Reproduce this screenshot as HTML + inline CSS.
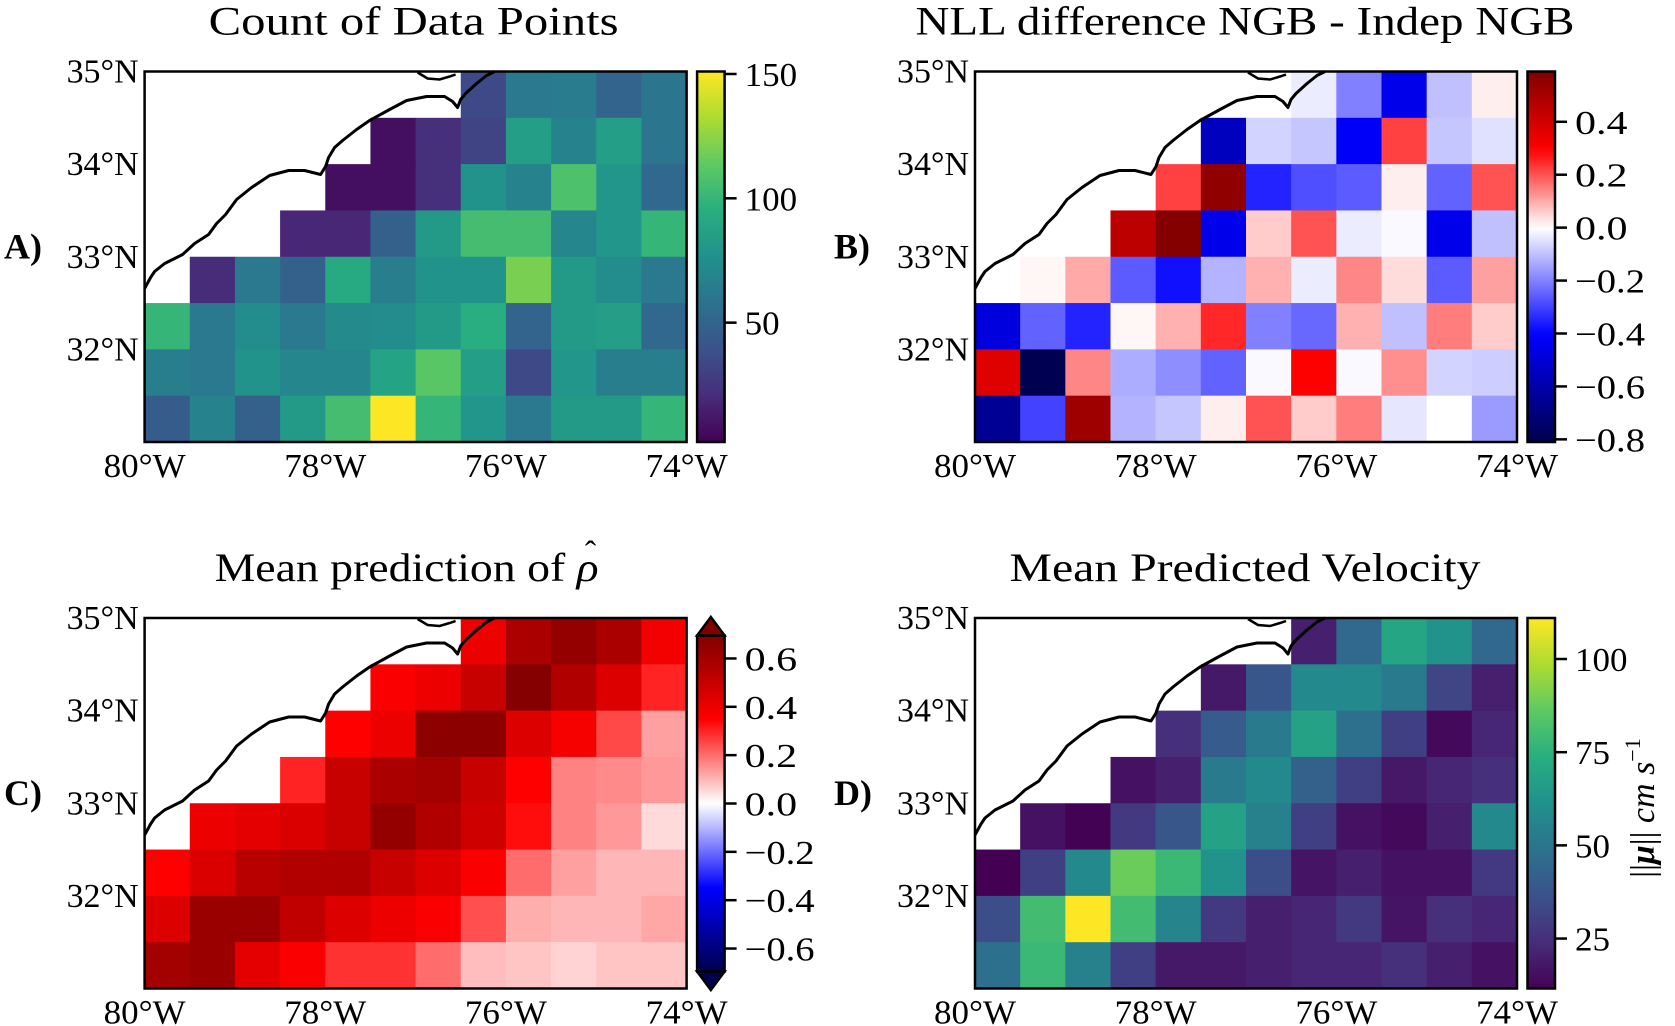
<!DOCTYPE html>
<html><head><meta charset="utf-8">
<style>
html,body{margin:0;padding:0;background:#fff;}
svg{display:block;font-family:"Liberation Serif",serif;}
</style></head>
<body>
<svg id="fig" width="1675" height="1026" viewBox="0 0 1675 1026" xmlns="http://www.w3.org/2000/svg">
<defs id="defs"></defs>
</svg>
<script>
const lonTicks = ["80°W","78°W","76°W","74°W"];
const lonTickVals = [-80,-78,-76,-74];
const latTicks = ["35°N","34°N","33°N","32°N"];
const latTickVals = [35,34,33,32];
const rowStart = [7,5,4,3,1,0,0,0];

const countRows = [
 [35,62,64,50,60],
 [8,22,32,85,68,85,60],
 [8,8,22,78,68,108,80,52],
 [18,18,48,82,105,105,70,80,100],
 [20,62,48,92,65,78,78,120,82,74,62],
 [100,62,74,62,72,74,82,95,50,82,85,52],
 [65,62,78,70,70,88,112,85,35,80,65,65],
 [45,68,48,82,105,151,100,80,62,82,82,100]
];
const nllRows = [
 [-0.03,-0.2,-0.45,-0.1,0.02],
 [-0.55,-0.07,-0.09,-0.42,0.22,-0.09,-0.05],
 [0.22,0.55,-0.35,-0.28,-0.26,0.02,-0.25,0.2],
 [0.45,0.58,-0.45,0.06,0.2,-0.03,-0.01,-0.45,-0.1],
 [0.01,0.1,-0.26,-0.38,-0.12,0.09,-0.03,0.14,0.04,-0.26,0.11],
 [-0.48,-0.25,-0.35,0.01,0.09,0.25,-0.2,-0.24,0.09,-0.1,0.15,0.06],
 [0.37,-0.8,0.14,-0.13,-0.18,-0.25,-0.01,0.3,-0.01,0.13,-0.07,-0.08],
 [-0.65,-0.3,0.52,-0.12,-0.09,0.02,0.2,0.06,0.15,-0.04,0.0,-0.16]
];
const rhoRows = [
 [0.4,0.58,0.64,0.58,0.38],
 [0.36,0.4,0.5,0.68,0.56,0.44,0.3],
 [0.35,0.4,0.66,0.66,0.44,0.37,0.25,0.13],
 [0.3,0.5,0.58,0.6,0.5,0.35,0.17,0.16,0.14],
 [0.4,0.42,0.45,0.5,0.64,0.56,0.48,0.33,0.17,0.14,0.05],
 [0.35,0.45,0.54,0.56,0.56,0.5,0.44,0.36,0.2,0.13,0.1,0.1],
 [0.44,0.62,0.62,0.52,0.44,0.4,0.36,0.24,0.11,0.1,0.1,0.12],
 [0.6,0.62,0.42,0.36,0.28,0.28,0.2,0.09,0.08,0.06,0.08,0.08]
];
const velRows = [
 [20,45,70,62,45],
 [18,38,58,58,52,32,20],
 [25,40,52,68,48,30,14,22],
 [16,20,52,58,42,30,18,22,25],
 [16,12,28,38,68,55,30,16,14,20,58],
 [11.6,30,58,88,78,62,35,17,20,16,16,28],
 [35,80,111,80,56,28,20,22,28,17,25,22],
 [48,78,55,30,18,18,20,22,22,25,20,16]
];
const cbTicksA = [50,100,150];
const cbTicksB = [0.4,0.2,0.0,-0.2,-0.4,-0.6,-0.8];
const cbTicksC = [0.6,0.4,0.2,0.0,-0.2,-0.4,-0.6];
const cbTicksD = [25,50,75,100];

const VIR = ["#440154","#472d7b","#3b528b","#2c728e","#21918c","#28ae80","#5ec962","#addc30","#fde725"];
const SEIS = [[0,0,77],[0,0,255],[255,255,255],[255,0,0],[128,0,0]];
function hex(h){return [parseInt(h.slice(1,3),16),parseInt(h.slice(3,5),16),parseInt(h.slice(5,7),16)];}
function interp(stops,t){t=Math.max(0,Math.min(1,t));const n=stops.length-1;const i=Math.min(n-1,Math.floor(t*n));const f=t*n-i;const a=stops[i],b=stops[i+1];return `rgb(${Math.round(a[0]+(b[0]-a[0])*f)},${Math.round(a[1]+(b[1]-a[1])*f)},${Math.round(a[2]+(b[2]-a[2])*f)})`;}
const VIRs = VIR.map(hex);
function viridis(vmin,vmax){return v=>interp(VIRs,(v-vmin)/(vmax-vmin));}
function seismic2(vmin,vmax){return v=>interp(SEIS, v<0 ? 0.5-0.5*(v/vmin) : 0.5+0.5*(v/vmax));}

const NS="http://www.w3.org/2000/svg";
const svg=document.getElementById('fig');
const defs=document.getElementById('defs');
function mk(tag,attrs,parent){const e=document.createElementNS(NS,tag);for(const k in attrs)e.setAttribute(k,attrs[k]);(parent||svg).appendChild(e);return e;}

const W=542,H=370.5;
const coast=[[0,217],[6,206],[10,200],[20,192],[38,183],[50,172],[64,163],[72,152],[81,143],[92,128],[107,116],[125,104],[144,99],[160,99],[176,103],[181,95],[184,86],[190,76],[198,69],[212,58],[225,49],[245,38],[262,29],[282,25],[300,25],[308,30],[313,36],[316,28],[321,22],[332,12],[342,4],[350,0]];
const sound=[[273,1],[283,7],[295,8],[305,5],[311,3]];

function panel(p){
  const g=mk('g',{});
  
  
  const L=p.x,T=p.y;
  const xs=lon=>L+(lon+80)/6*W;
  const ys=lat=>T+(35-lat)/4*H;
  const cw=W/12, ch=H/8;
  const t=mk('text',{x:L+W/2+p.tdx,y:T-37,'text-anchor':'middle','font-size':40,textLength:p.tw,lengthAdjust:'spacingAndGlyphs'},g);
  
  
  t.innerHTML=p.title;
  if(p.hat){
    const h=mk('text',{x:L+W/2+p.tdx+184,y:T-54,'text-anchor':'middle','font-size':34},g);
    
    
    h.textContent='ˆ';
  }
  const pl=mk('text',{x:p.lx,y:T+187,'font-size':36,'font-weight':'bold'},g);
  
  
  pl.textContent=p.letter;
  p.rows.forEach((row,r)=>{
    row.forEach((v,i)=>{
      const c=rowStart[r]+i;
      const lon=-80+c*0.5, lat=35-r*0.5;
      const rect=mk('rect',{x:xs(lon),y:ys(lat),width:cw+0.6,height:ch+0.6,fill:p.cmap(v)},g);
      
      
    });
  });
  const pts=coast.map(q=>(L+q[0])+','+(T+q[1])).join(' ');
  const cl=mk('polyline',{points:pts,fill:'none',stroke:'#000','stroke-width':3,'stroke-linejoin':'round'},g);
  
  
  const sd=mk('polyline',{points:sound.map(q=>(L+q[0])+','+(T+q[1])).join(' '),fill:'none',stroke:'#000','stroke-width':2.5},g);
  
  
  const fr=mk('rect',{x:L,y:T,width:W,height:H,fill:'none',stroke:'#000','stroke-width':2.5},g);
  
  
  lonTicks.forEach((s,i)=>{
    const tx=mk('text',{x:xs(lonTickVals[i]),y:T+H+35,'text-anchor':'middle','font-size':34,textLength:82,lengthAdjust:'spacingAndGlyphs'},g);
    
    
    tx.textContent=s;
  });
  latTicks.forEach((s,i)=>{
    const tx=mk('text',{x:L-6,y:ys(latTickVals[i])+11,'text-anchor':'end','font-size':34,textLength:72,lengthAdjust:'spacingAndGlyphs'},g);
    
    
    tx.textContent=s;
  });
  const cx=L+W+10.5, cwid=27.5;
  let top=T, bot=T+H;
  if(p.extend){top=T+17.5; bot=T+H-17;}
  const gid='grad'+p.letter[0];
  const lg=mk('linearGradient',{id:gid,x1:0,y1:1,x2:0,y2:0},defs);
  for(let k=0;k<=40;k++){const v=p.vmin+(p.vmax-p.vmin)*k/40;mk('stop',{offset:k/40,'stop-color':p.cmap(v)},lg);}
  const cb=mk('rect',{x:cx,y:top,width:cwid,height:bot-top,fill:`url(#${gid})`,stroke:'#000','stroke-width':2.5},g);
  
  
  if(p.extend){
    const tu=mk('polygon',{points:`${cx},${top} ${cx+cwid/2},${T-1} ${cx+cwid},${top}`,fill:p.cmap(p.vmax*1.05),stroke:'#000','stroke-width':2.5},g);
    
    
    const td=mk('polygon',{points:`${cx},${bot} ${cx+cwid/2},${T+H+1.5} ${cx+cwid},${bot}`,fill:p.cmap(p.vmin*1.05),stroke:'#000','stroke-width':2.5},g);
    
    
  }
  const cy=v=>bot-(v-p.vmin)/(p.vmax-p.vmin)*(bot-top);
  p.ticks.forEach(v=>{
    const y=cy(v);
    const tk=mk('line',{x1:cx+cwid,x2:cx+cwid+12,y1:y,y2:y,stroke:'#000','stroke-width':2.5},g);
    
    
    const s=p.fmt(v);
    const tl=mk('text',{x:cx+cwid+20,y:y+12,'font-size':34,textLength:s.length*17.5,lengthAdjust:'spacingAndGlyphs'},g);
    
    
    tl.textContent=s;
  });
  return g;
}
const intf=v=>String(v);
const decf=v=>(v<0?'\u2212':'')+Math.abs(v).toFixed(1);

panel({name:'panel-a-count',x:144.6,y:71.5,rows:countRows,cmap:viridis(2,151),vmin:2,vmax:151,ticks:cbTicksA,fmt:intf,
  title:'Count of Data Points',tw:410,tdx:-2,letter:'A)',lx:4});
panel({name:'panel-b-nll-difference',x:975,y:71.5,rows:nllRows,cmap:seismic2(-0.81,0.59),vmin:-0.81,vmax:0.59,ticks:cbTicksB,fmt:decf,
  title:'NLL difference NGB - Indep NGB',tw:659,tdx:-1,letter:'B)',lx:834});
panel({name:'panel-c-mean-rho',x:144.6,y:618,rows:rhoRows,cmap:seismic2(-0.695,0.695),vmin:-0.695,vmax:0.695,ticks:cbTicksC,fmt:decf,extend:true,
  title:'Mean prediction of <tspan font-style="italic">ρ</tspan>',tw:384,tdx:-9,hat:true,letter:'C)',lx:4});
panel({name:'panel-d-mean-velocity',x:975,y:618,rows:velRows,cmap:viridis(11.6,111),vmin:11.6,vmax:111,ticks:cbTicksD,fmt:intf,
  title:'Mean Predicted Velocity',tw:471,tdx:-1,letter:'D)',lx:834});

const lab=mk('text',{x:0,y:0,'font-size':34,transform:'translate(1654,808) rotate(-90)','text-anchor':'middle'});


lab.innerHTML='||<tspan font-weight="bold" font-style="italic">μ</tspan>||   <tspan font-style="italic">cm  s</tspan><tspan font-size="22" dy="-14">−1</tspan>';
</script>
</body></html>
